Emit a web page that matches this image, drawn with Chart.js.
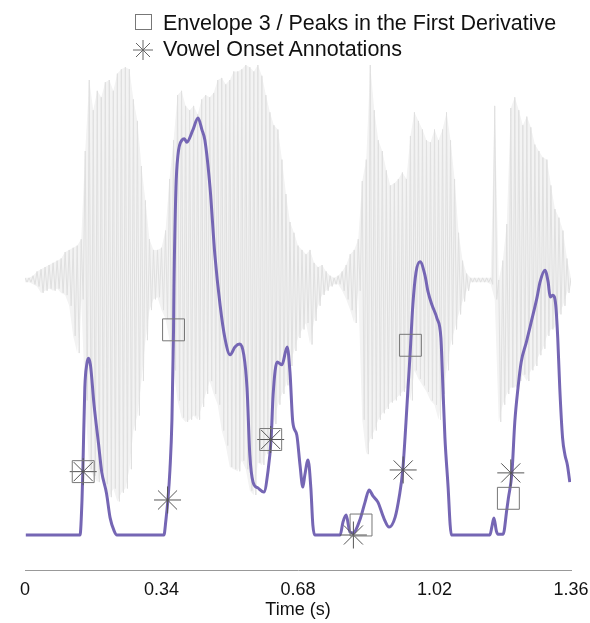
<!DOCTYPE html>
<html>
<head>
<meta charset="utf-8">
<script src="https://cdn.jsdelivr.net/npm/chart.js@4/dist/chart.umd.min.js"></script>
<style>
    body { margin: 0; background: #fff; }
    #wrap { position: relative; width: 590px; height: 623px; }
    .lg { position: absolute; font: 21.5px "Liberation Sans", Arial, sans-serif; line-height: 24px; color: #111; white-space: nowrap; }
</style>
</head>
<body>
<div id="wrap">
    <canvas id="myChart" width="590" height="623"></canvas>
    <svg style="position:absolute;left:134px;top:13px" width="20" height="18">
        <rect x="1.5" y="1.5" width="16" height="15" fill="none" stroke="#777" stroke-width="1"/>
    </svg>
    <div class="lg" style="left:163px;top:11px">Envelope 3 / Peaks in the First Derivative</div>
    <svg style="position:absolute;left:131px;top:38px" width="24" height="24">
        <g stroke="#666" stroke-width="1">
            <line x1="2" y1="12" x2="22" y2="12"/>
            <line x1="12" y1="2" x2="12" y2="22"/>
            <line x1="5" y1="5" x2="19" y2="19"/>
            <line x1="19" y1="5" x2="5" y2="19"/>
        </g>
    </svg>
    <div class="lg" style="left:163px;top:37px">Vowel Onset Annotations</div>
</div>
<script>
const fontFamily = '"Liberation Sans", Arial, sans-serif';

const xTicks = [0, 0.34, 0.68, 1.02, 1.36];
const xTickLabels = ['0', '0.34', '0.68', '1.02', '1.36'];

// envelope 3 (normalised, 1 = highest peak)
const envTime = [0.002, 0.137, 0.142, 0.144, 0.149, 0.154, 0.158, 0.163, 0.172, 0.183,
    0.191, 0.203, 0.212, 0.222, 0.229, 0.346, 0.351, 0.356, 0.361, 0.366,
    0.370, 0.371, 0.376, 0.381, 0.391, 0.397, 0.403, 0.418, 0.431, 0.441,
    0.448, 0.461, 0.473, 0.486, 0.498, 0.511, 0.523, 0.535, 0.545, 0.553,
    0.560, 0.568, 0.580, 0.595, 0.605, 0.613, 0.618, 0.628, 0.640, 0.653,
    0.660, 0.667, 0.677, 0.685, 0.692, 0.697, 0.705, 0.712, 0.717, 0.722,
    0.785, 0.792, 0.800, 0.809, 0.817, 0.834, 0.847, 0.857, 0.867, 0.879,
    0.894, 0.907, 0.922, 0.932, 0.941, 0.949, 0.954, 0.959, 0.966, 0.974,
    0.984, 0.996, 1.004, 1.014, 1.026, 1.036, 1.041, 1.046, 1.054, 1.059,
    1.062, 1.158, 1.163, 1.168, 1.174, 1.178, 1.191, 1.200, 1.204, 1.213,
    1.220, 1.228, 1.236, 1.249, 1.261, 1.275, 1.283, 1.295, 1.303, 1.308,
    1.315, 1.322, 1.327, 1.332, 1.339, 1.345, 1.351, 1.357];
const envValue = [0, 0, 0.084, 0.151, 0.353, 0.41, 0.424, 0.408, 0.312, 0.22,
    0.152, 0.10, 0.041, 0.01, 0, 0, 0.036, 0.084, 0.156, 0.276,
    0.492, 0.592, 0.832, 0.911, 0.947, 0.95, 0.942, 0.971, 1.0, 0.971,
    0.947, 0.832, 0.671, 0.551, 0.472, 0.432, 0.451, 0.458, 0.432, 0.353,
    0.192, 0.127, 0.113, 0.103, 0.151, 0.230, 0.336, 0.415, 0.408, 0.451,
    0.391, 0.271, 0.240, 0.168, 0.115, 0.144, 0.180, 0.113, 0.024, 0,
    0, 0.031, 0.048, 0.008, 0.005, 0.036, 0.079, 0.108, 0.093, 0.079,
    0.04, 0.019, 0.043, 0.091, 0.156, 0.271, 0.353, 0.43, 0.551, 0.630,
    0.655, 0.624, 0.583, 0.551, 0.520, 0.472, 0.353, 0.233, 0.113, 0.024,
    0, 0, 0.02, 0.041, 0.01, 0.002, 0.002, 0.06, 0.088, 0.151,
    0.271, 0.353, 0.415, 0.463, 0.511, 0.568, 0.607, 0.635, 0.607, 0.571,
    0.575, 0.551, 0.472, 0.353, 0.233, 0.192, 0.168, 0.127];

// peaks in the first derivative (squares)
const peakTime = [0.145, 0.370, 0.612, 0.837, 0.960, 1.204];
const peakValue = [0.152, 0.492, 0.229, 0.024, 0.455, 0.088];

// vowel onset annotations (asterisks)
const onsetTime = [0.145, 0.355, 0.612, 0.818, 0.942, 1.210];
const onsetValue = [0.152, 0.084, 0.229, 0.0, 0.156, 0.149];

// speech waveform, max / min per 10 ms frame
const waveStep = 0.01;
const waveTop = [0.01, 0.01, 0.02, 0.04, 0.05, 0.06, 0.07, 0.08, 0.09, 0.10,
    0.13, 0.14, 0.15, 0.16, 0.19, 0.60, 0.93, 0.79, 0.88, 0.85,
    0.92, 0.93, 0.88, 0.96, 0.98, 0.99, 0.98, 0.84, 0.74, 0.53,
    0.37, 0.19, 0.14, 0.14, 0.15, 0.23, 0.47, 0.65, 0.86, 0.88,
    0.81, 0.79, 0.81, 0.77, 0.84, 0.86, 0.85, 0.87, 0.93, 0.94,
    0.91, 0.93, 0.97, 0.97, 0.98, 1.00, 0.99, 0.97, 1.00, 0.95,
    0.86, 0.78, 0.72, 0.70, 0.56, 0.40, 0.27, 0.22, 0.16, 0.14,
    0.12, 0.14, 0.08, 0.06, 0.07, 0.04, 0.02, 0.01, 0.02, 0.04,
    0.07, 0.12, 0.14, 0.19, 0.46, 0.56, 1.00, 0.79, 0.65, 0.60,
    0.51, 0.44, 0.45, 0.47, 0.50, 0.47, 0.67, 0.78, 0.74, 0.70,
    0.65, 0.64, 0.70, 0.65, 0.70, 0.78, 0.65, 0.47, 0.22, 0.09,
    0.03, 0.01, 0.01, 0.01, 0.01, 0.01, 0.01, 0.81, 0.00, 0.09,
    0.26, 0.80, 0.85, 0.79, 0.72, 0.76, 0.71, 0.63, 0.60, 0.57,
    0.56, 0.44, 0.33, 0.29, 0.23, 0.10, 0.01];
const waveBottom = [-0.01, -0.01, -0.02, -0.03, -0.06, -0.05, -0.04, -0.05, -0.04, -0.06,
    -0.07, -0.12, -0.26, -0.34, -0.09, -0.56, -0.88, -0.91, -0.94, -0.89,
    -0.95, -1.01, -0.97, -1.03, -0.99, -0.97, -0.88, -0.70, -0.63, -0.47,
    -0.28, -0.14, -0.09, -0.08, -0.14, -0.18, -0.28, -0.42, -0.56, -0.64,
    -0.66, -0.65, -0.63, -0.65, -0.59, -0.53, -0.47, -0.53, -0.58, -0.70,
    -0.77, -0.87, -0.88, -0.89, -0.84, -0.88, -0.98, -1.00, -0.85, -0.86,
    -0.81, -0.74, -0.67, -0.58, -0.53, -0.49, -0.40, -0.33, -0.27, -0.23,
    -0.20, -0.30, -0.19, -0.12, -0.07, -0.05, -0.03, -0.02, -0.02, -0.05,
    -0.09, -0.14, -0.20, -0.05, -0.65, -0.81, -0.74, -0.70, -0.65, -0.62,
    -0.60, -0.57, -0.56, -0.54, -0.52, -0.50, -0.56, -0.42, -0.46, -0.49,
    -0.52, -0.56, -0.58, -0.65, -0.53, -0.42, -0.30, -0.23, -0.16, -0.10,
    -0.05, -0.01, -0.01, -0.01, -0.01, -0.01, -0.02, -0.09, -0.66, -0.58,
    -0.53, -0.50, -0.50, -0.47, -0.44, -0.47, -0.42, -0.40, -0.35, -0.32,
    -0.26, -0.23, -0.22, -0.16, -0.12, -0.06, -0.02];

function toPoints(xs, ys) {
    return xs.map((x, i) => ({x: x, y: ys[i]}));
}

const waveTime = waveTop.map((v, i) => i * waveStep);

// zig-zag between frame max and frame min so it reads like a waveform
const wavePoints = [];
for (let i = 0; i < waveTop.length; ++i) {
    wavePoints.push({x: waveTime[i], y: waveTop[i]});
    wavePoints.push({x: waveTime[i] + waveStep / 2, y: waveBottom[i]});
}

const config = {
    type: 'line',
    data: {
        datasets: [{
            label: 'Envelope 3 / Peaks in the First Derivative',
            data: toPoints(peakTime, peakValue),
            showLine: false,
            pointStyle: 'rect',
            pointRadius: 15.5,
            borderColor: '#777',
            backgroundColor: 'rgba(0,0,0,0)',
            borderWidth: 1,
            yAxisID: 'y',
            order: 0
        }, {
            label: 'Vowel Onset Annotations',
            data: toPoints(onsetTime, onsetValue),
            showLine: false,
            pointStyle: 'star',
            pointRadius: 13.5,
            borderColor: '#555',
            backgroundColor: 'rgba(0,0,0,0)',
            borderWidth: 1,
            yAxisID: 'y',
            order: 1
        }, {
            label: 'Envelope 3',
            data: toPoints(envTime, envValue),
            borderColor: '#7566b4',
            borderWidth: 3,
            pointRadius: 0,
            cubicInterpolationMode: 'monotone',
            yAxisID: 'y',
            order: 2
        }, {
            label: 'Waveform',
            data: wavePoints,
            borderColor: '#e0e0e0',
            borderWidth: 1,
            pointRadius: 0,
            tension: 0,
            yAxisID: 'y2',
            order: 3
        }, {
            label: 'Waveform max',
            data: toPoints(waveTime, waveTop),
            borderWidth: 0,
            borderColor: 'rgba(0,0,0,0)',
            backgroundColor: '#f3f3f3',
            fill: '+1',
            pointRadius: 0,
            tension: 0,
            yAxisID: 'y2',
            order: 4
        }, {
            label: 'Waveform min',
            data: toPoints(waveTime, waveBottom),
            borderWidth: 0,
            borderColor: 'rgba(0,0,0,0)',
            pointRadius: 0,
            tension: 0,
            yAxisID: 'y2',
            order: 5
        }]
    },
    options: {
        responsive: false,
        animation: false,
        events: [],
        layout: {
            autoPadding: false,
            padding: {top: 60, left: 25, right: 19, bottom: 0}
        },
        plugins: {
            legend: {display: false},
            tooltip: {enabled: false}
        },
        scales: {
            x: {
                type: 'linear',
                min: 0,
                max: 1.36,
                afterBuildTicks: scale => {
                    scale.ticks = xTicks.map(v => ({value: v}));
                },
                afterFit: scale => {
                    scale.height = 53;
                    scale.paddingLeft = 0;
                    scale.paddingRight = 0;
                },
                ticks: {
                    callback: (value, index) => xTickLabels[index],
                    font: {family: fontFamily, size: 18},
                    color: '#111',
                    padding: 9,
                    maxRotation: 0,
                    autoSkip: false
                },
                grid: {display: false, drawTicks: false},
                border: {display: true, color: '#999', width: 1},
                title: {
                    display: true,
                    text: 'Time (s)',
                    font: {family: fontFamily, size: 18},
                    color: '#111',
                    padding: {top: 0, bottom: 2}
                }
            },
            y: {
                type: 'linear',
                display: false,
                min: -0.0839,
                max: 1.1391
            },
            y2: {
                type: 'linear',
                display: false,
                min: -1.3488,
                max: 1.0233
            }
        }
    }
};

const myChart = new Chart(document.getElementById('myChart'), config);
</script>
</body>
</html>
